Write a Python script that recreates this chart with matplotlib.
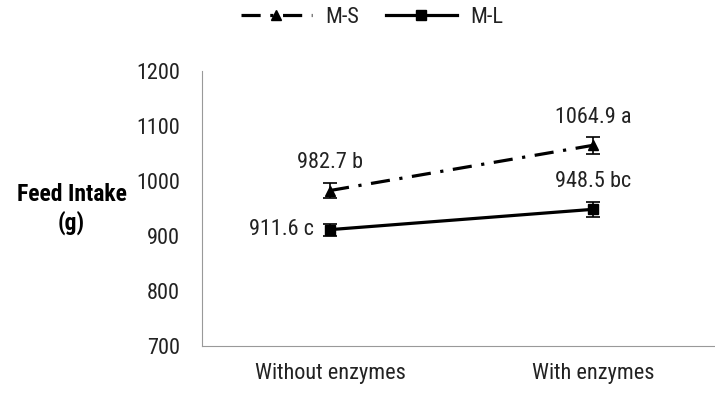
import matplotlib
matplotlib.use("Agg")
import matplotlib.pyplot as plt
from matplotlib.lines import Line2D

categories = ["Without enzymes", "With enzymes"]
ms_values = [982.7, 1064.9]
ml_values = [911.6, 948.5]
ms_err = [13, 15]
ml_err = [11, 14]
ms_labels = ["982.7 b", "1064.9 a"]
ml_labels = ["911.6 c", "948.5 bc"]

plt.rcParams['font.family'] = ['Roboto Condensed', 'DejaVu Sans']
plt.rcParams['text.color'] = '#222222'

fig = plt.figure(figsize=(7.15, 3.94), dpi=100)
ax = fig.add_axes([0.2825, 0.1218, 0.7175, 0.698])

dashdot = (0, (6, 3, 1, 3))
x = list(range(len(categories)))
ax.errorbar(x, ms_values, yerr=ms_err, color='black', lw=2.3, ls=dashdot,
            marker='^', ms=7, capsize=5, elinewidth=1.2, capthick=1.2)
ax.errorbar(x, ml_values, yerr=ml_err, color='black', lw=2.3, ls='-',
            marker='s', ms=7, capsize=5, elinewidth=1.2, capthick=1.2)

for i, (v, t) in enumerate(zip(ms_values, ms_labels)):
    ax.annotate(t, (i, v), xytext=(0, 20), textcoords='offset points',
                ha='center', va='center', fontsize=16)
ax.annotate(ml_labels[0], (0, ml_values[0]), xytext=(-12, 0), textcoords='offset points',
            ha='right', va='center', fontsize=16)
ax.annotate(ml_labels[1], (1, ml_values[1]), xytext=(0, 20), textcoords='offset points',
            ha='center', va='center', fontsize=16)

ax.set_xlim(-0.487, 1.464)
ax.set_ylim(700, 1200)
ax.set_yticks(range(700, 1201, 100))
ax.set_xticks(x)
ax.set_xticklabels(categories)
ax.tick_params(length=0, labelsize=16, labelcolor='#222222')
ax.tick_params(axis='x', pad=12)
ax.tick_params(axis='y', pad=16)
for s in ['top', 'right']:
    ax.spines[s].set_visible(False)
for s in ['left', 'bottom']:
    ax.spines[s].set_color('#999999')

fig.text(0.1, 0.47, "Feed Intake\n(g)", ha='center', va='center',
         fontsize=17, fontweight='bold', linespacing=1.25, color='black')

handles = [Line2D([], [], color='black', lw=2.3, ls=dashdot, marker='^', ms=7),
           Line2D([], [], color='black', lw=2.3, ls='-', marker='s', ms=7)]
fig.legend(handles, ['M-S', 'M-L'], loc='center', bbox_to_anchor=(0.52, 0.955), ncol=2,
           frameon=False, fontsize=16, handlelength=3.2, columnspacing=1.2, handletextpad=0.6)

fig.savefig("out.png", dpi=100)
